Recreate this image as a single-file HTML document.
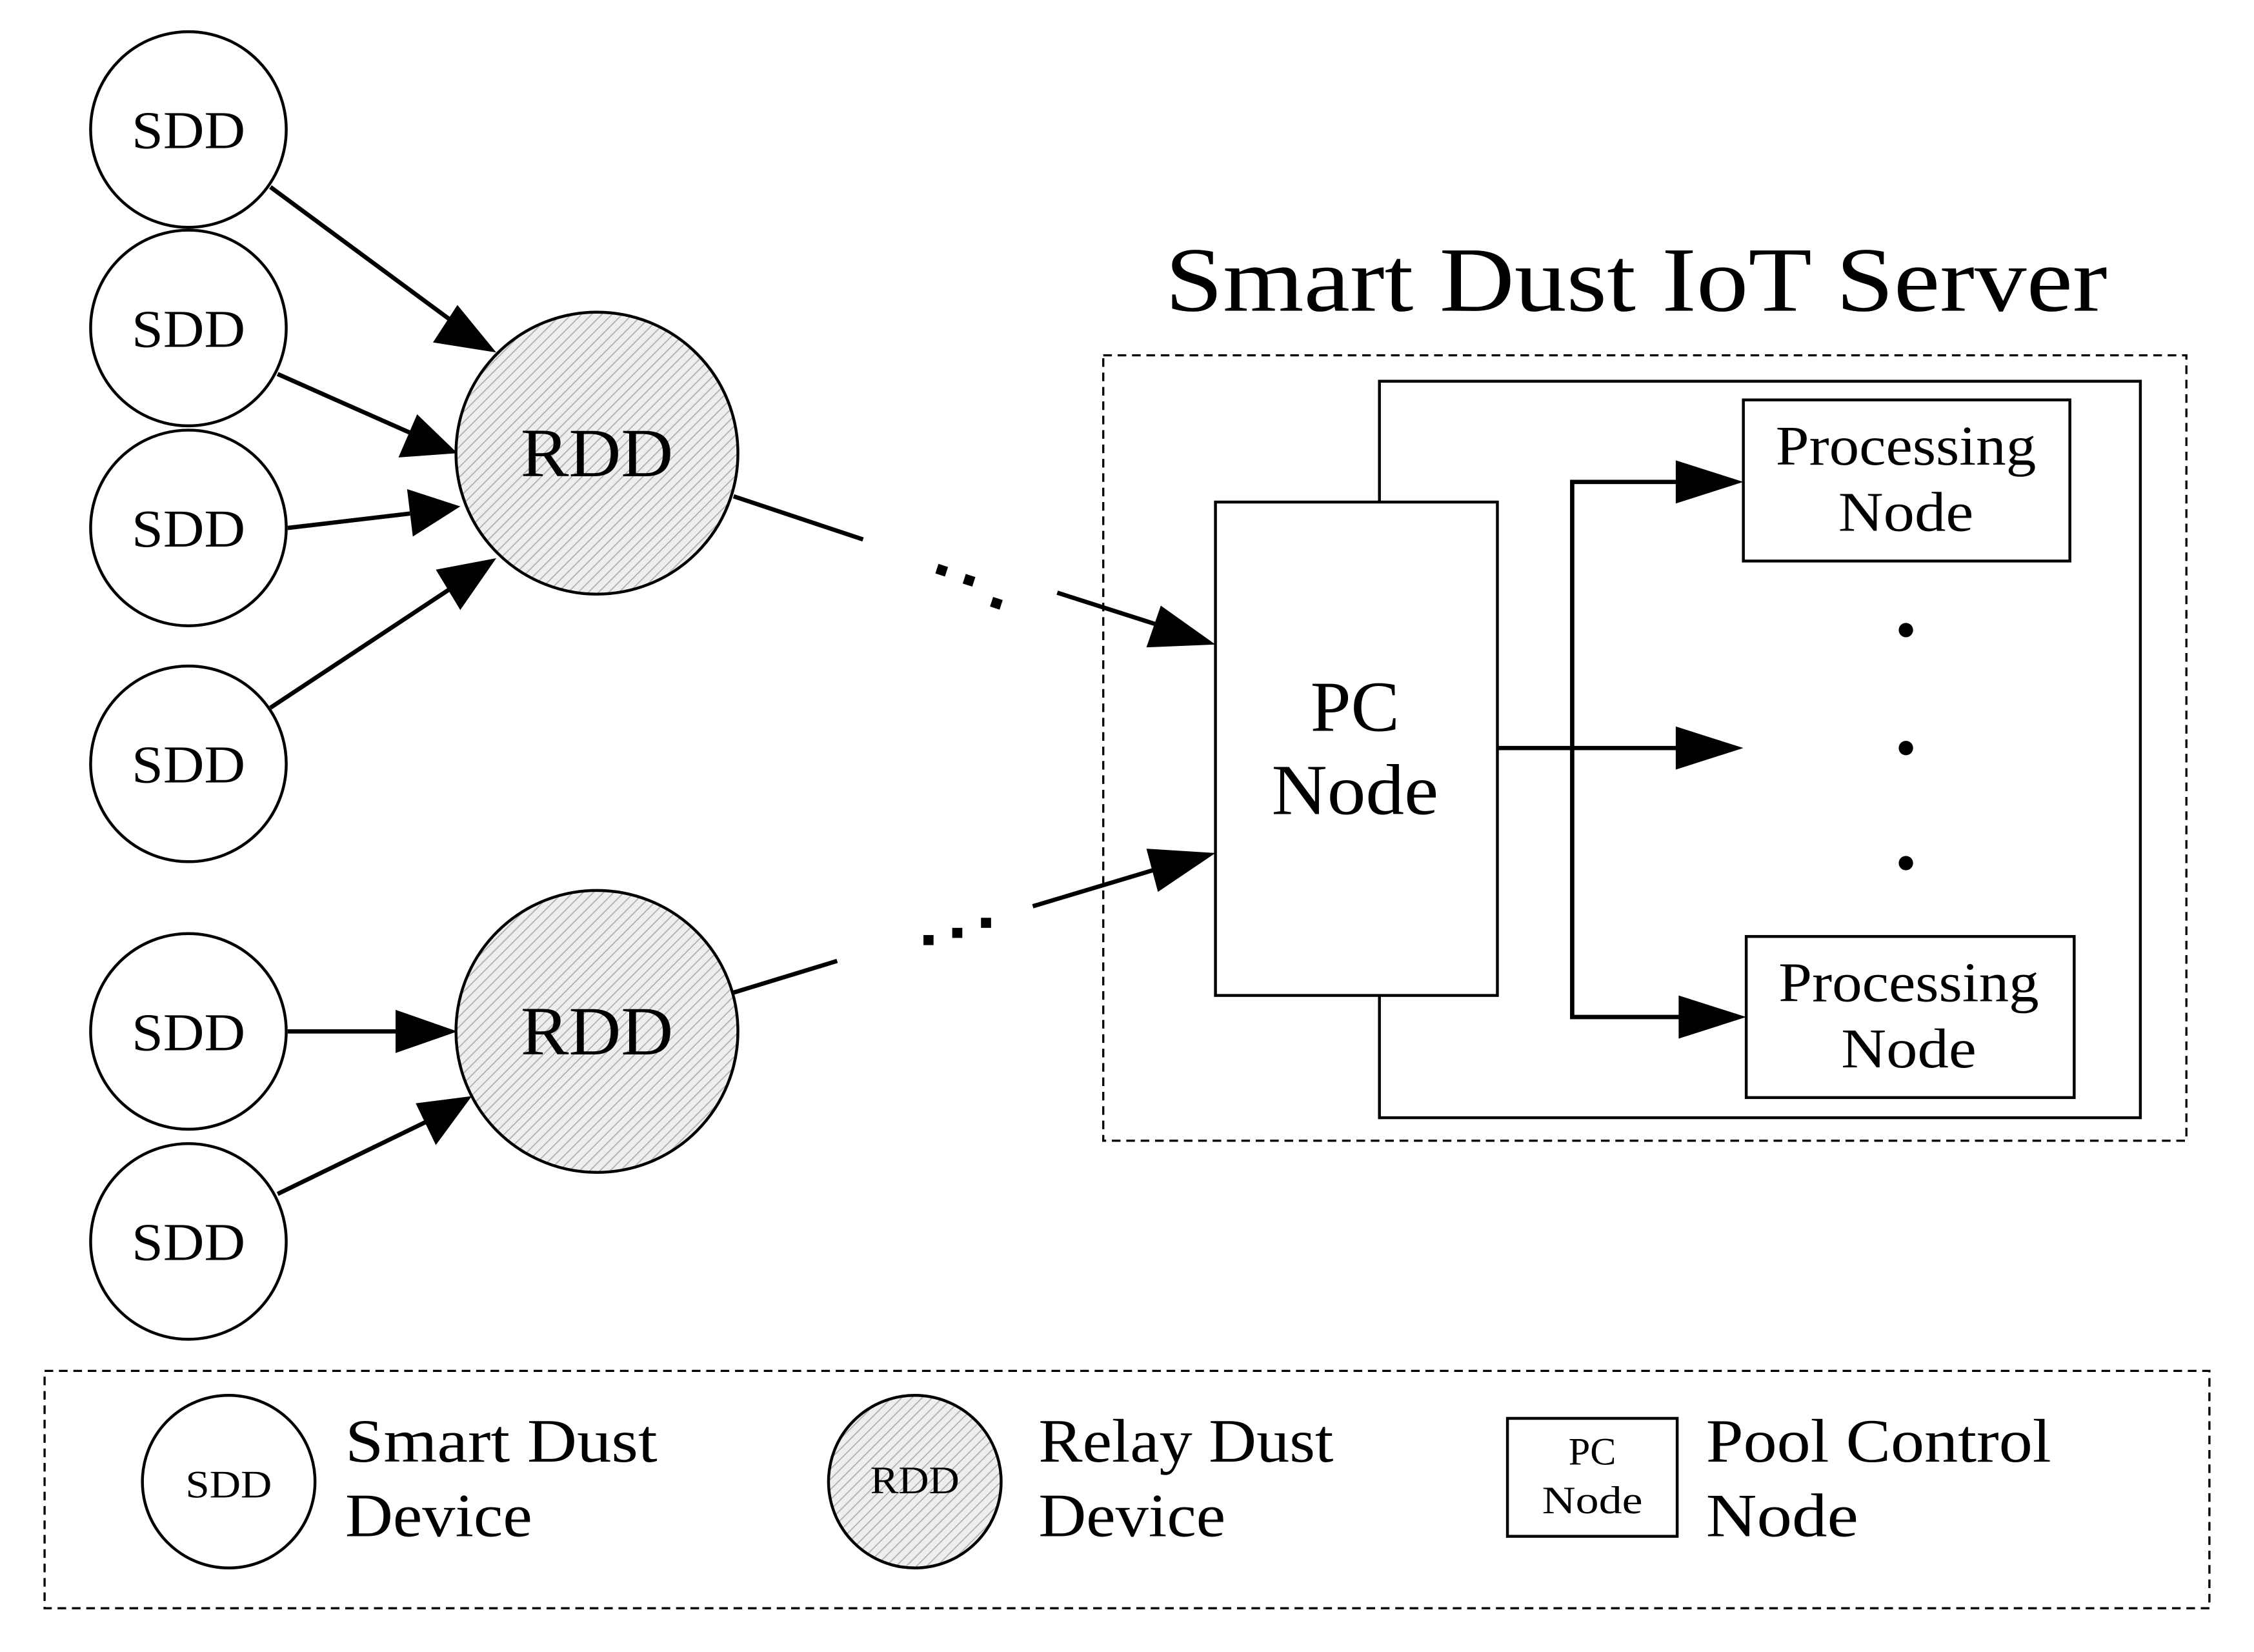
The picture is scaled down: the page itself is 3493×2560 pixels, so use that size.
<!DOCTYPE html>
<html><head><meta charset="utf-8"><style>html,body{margin:0;padding:0;background:#fff}svg{display:block}</style></head>
<body>
<svg xmlns="http://www.w3.org/2000/svg" width="3493" height="2560" viewBox="0 0 1567 1148.4" font-family="'Liberation Serif', serif">
<defs>
<pattern id="h" patternUnits="userSpaceOnUse" width="5" height="5" patternTransform="rotate(45)">
<rect width="5" height="5" fill="#eeeeee"/><line x1="0" y1="0" x2="0" y2="5" stroke="#b0b0b0" stroke-width="1.6"/>
</pattern>
</defs>
<g fill="#fff" stroke="#000" stroke-width="2">
<circle cx="131" cy="90" r="68"/><circle cx="131" cy="228" r="68"/><circle cx="131" cy="367" r="68"/><circle cx="131" cy="531" r="68"/><circle cx="131" cy="717" r="68"/><circle cx="131" cy="863" r="68"/>
<circle cx="415" cy="315" r="98" fill="url(#h)"/><circle cx="415" cy="717" r="98" fill="url(#h)"/>
</g>
<g font-size="37" text-anchor="middle" lengthAdjust="spacingAndGlyphs">
<text x="131" y="103" textLength="79" lengthAdjust="spacingAndGlyphs">SDD</text><text x="131" y="241" textLength="79" lengthAdjust="spacingAndGlyphs">SDD</text><text x="131" y="380" textLength="79" lengthAdjust="spacingAndGlyphs">SDD</text><text x="131" y="544" textLength="79" lengthAdjust="spacingAndGlyphs">SDD</text><text x="131" y="730" textLength="79" lengthAdjust="spacingAndGlyphs">SDD</text><text x="131" y="876" textLength="79" lengthAdjust="spacingAndGlyphs">SDD</text>
<text x="415" y="331" font-size="48" textLength="106" lengthAdjust="spacingAndGlyphs">RDD</text><text x="415" y="733" font-size="48" textLength="106" lengthAdjust="spacingAndGlyphs">RDD</text>
</g>
<g stroke="#000" stroke-width="3" fill="none">
<line x1="188" y1="130" x2="318" y2="226"/><line x1="193" y1="260" x2="290" y2="303"/><line x1="200" y1="367" x2="285" y2="357"/><line x1="188" y1="492" x2="318" y2="406"/>
<line x1="200" y1="717" x2="280" y2="717"/><line x1="193" y1="830" x2="298" y2="779"/>
<line x1="510" y1="345" x2="600" y2="375"/><line x1="735" y1="412" x2="810" y2="436"/>
<line x1="510" y1="690" x2="582" y2="668"/><line x1="718" y1="630" x2="808" y2="603"/>
<polyline points="1041,520 1170,520"/><polyline points="1170,335 1093,335 1093,707 1170,707"/>
</g>
<g fill="#000">
<polygon points="345,245 301,238 318,212"/>
<polygon points="318,315 277,318 290,288"/>
<polygon points="320,352 287,373 283,340"/>
<polygon points="345,388 320,424 303,396"/>
<polygon points="318,717 275,732 275,702"/>
<polygon points="328,762 303,796 289,767"/>
<polygon points="845,448 797,450 807,421"/>
<polygon points="845,593 805,620 797,590"/>
<polygon points="1212,335 1165,350 1165,320"/>
<polygon points="1212,520 1165,535 1165,505"/>
<polygon points="1214,707 1167,722 1167,692"/>
<g><rect x="651" y="393" width="7" height="7" transform="rotate(18 655 397)"/><rect x="670" y="400" width="7" height="7" transform="rotate(18 674 404)"/><rect x="689" y="416" width="7" height="7" transform="rotate(18 693 420)"/>
<rect x="642" y="650" width="7" height="7"/><rect x="662" y="645" width="7" height="7"/><rect x="682" y="638" width="7" height="7"/></g>
<circle cx="1325" cy="438" r="5"/><circle cx="1325" cy="520" r="5"/><circle cx="1325" cy="600" r="5"/>
</g>
<text x="810" y="216" font-size="64" textLength="655" lengthAdjust="spacingAndGlyphs">Smart Dust IoT Server</text>
<rect x="767" y="247" width="753" height="546" fill="none" stroke="#000" stroke-width="1.5" stroke-dasharray="6,4"/>
<rect x="959" y="265" width="529" height="512" fill="none" stroke="#000" stroke-width="2"/>
<rect x="845" y="349" width="196" height="343" fill="#fff" stroke="#000" stroke-width="2"/>
<text x="942" y="508" font-size="50" text-anchor="middle" textLength="62" lengthAdjust="spacingAndGlyphs">PC</text><text x="942" y="566" font-size="50" text-anchor="middle" textLength="116" lengthAdjust="spacingAndGlyphs">Node</text>
<rect x="1212" y="278" width="227" height="112" fill="#fff" stroke="#000" stroke-width="2"/>
<rect x="1214" y="651" width="228" height="112" fill="#fff" stroke="#000" stroke-width="2"/>
<g font-size="39" text-anchor="middle">
<text x="1325" y="323" textLength="181" lengthAdjust="spacingAndGlyphs">Processing</text><text x="1325" y="369" textLength="94" lengthAdjust="spacingAndGlyphs">Node</text>
<text x="1327" y="696" textLength="181" lengthAdjust="spacingAndGlyphs">Processing</text><text x="1327" y="742" textLength="94" lengthAdjust="spacingAndGlyphs">Node</text>
</g>
<rect x="31" y="953" width="1505" height="165" fill="none" stroke="#000" stroke-width="1.5" stroke-dasharray="6,4"/>
<circle cx="159" cy="1030" r="60" fill="#fff" stroke="#000" stroke-width="2"/>
<circle cx="636" cy="1030" r="60" fill="url(#h)" stroke="#000" stroke-width="2"/>
<rect x="1048" y="986" width="118" height="82" fill="#fff" stroke="#000" stroke-width="2"/>
<g font-size="27" text-anchor="middle"><text x="159" y="1041" textLength="60" lengthAdjust="spacingAndGlyphs">SDD</text><text x="636" y="1038" textLength="62" lengthAdjust="spacingAndGlyphs">RDD</text><text x="1107" y="1018">PC</text><text x="1107" y="1052" textLength="70" lengthAdjust="spacingAndGlyphs">Node</text></g>
<g font-size="43"><text x="240" y="1016" textLength="217" lengthAdjust="spacingAndGlyphs">Smart Dust</text><text x="240" y="1068" textLength="130" lengthAdjust="spacingAndGlyphs">Device</text>
<text x="722" y="1016" textLength="205" lengthAdjust="spacingAndGlyphs">Relay Dust</text><text x="722" y="1068" textLength="130" lengthAdjust="spacingAndGlyphs">Device</text>
<text x="1186" y="1016" textLength="240" lengthAdjust="spacingAndGlyphs">Pool Control</text><text x="1186" y="1068" textLength="106" lengthAdjust="spacingAndGlyphs">Node</text></g>
</svg>
</body></html>
